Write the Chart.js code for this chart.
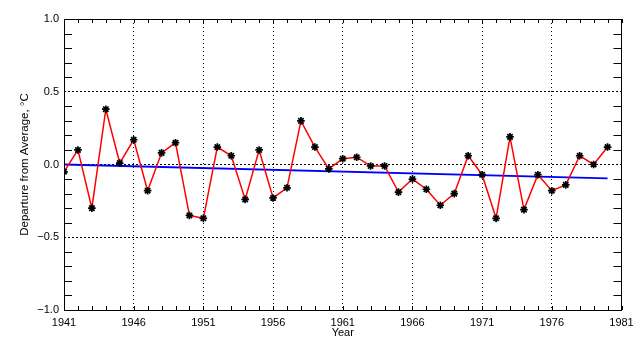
<!DOCTYPE html>
<html>
<head>
<meta charset="utf-8">
<script src="https://cdn.jsdelivr.net/npm/chart.js@4/dist/chart.umd.min.js"></script>
<style>
  html, body { margin: 0; padding: 0; background: #fff; }
  #wrap { width: 640px; height: 350px; }
</style>
</head>
<body>
<div id="wrap"><canvas id="c" width="640" height="350"></canvas></div>
<script>
// Annual temperature departures, 1941-1980
const years = [1941,1942,1943,1944,1945,1946,1947,1948,1949,1950,
               1951,1952,1953,1954,1955,1956,1957,1958,1959,1960,
               1961,1962,1963,1964,1965,1966,1967,1968,1969,1970,
               1971,1972,1973,1974,1975,1976,1977,1978,1979,1980];
const departures = [-0.05, 0.10, -0.30, 0.38, 0.01, 0.17, -0.18, 0.08, 0.15, -0.35,
                    -0.37, 0.12, 0.06, -0.24, 0.10, -0.23, -0.16, 0.30, 0.12, -0.03,
                     0.04, 0.05, -0.01, -0.01, -0.19, -0.10, -0.17, -0.28, -0.20, 0.06,
                    -0.07, -0.37, 0.19, -0.31, -0.07, -0.18, -0.14, 0.06, 0.00, 0.12];
// Linear trend end points
const trendYears = [1941, 1980];
const trendValues = [0.0, -0.095];

const xTicks = [1941, 1946, 1951, 1956, 1961, 1966, 1971, 1976, 1981];
const yTicks = [-1.0, -0.5, 0.0, 0.5, 1.0];

Chart.defaults.font.family = '"Liberation Sans", Helvetica, Arial, sans-serif';
Chart.defaults.font.size = 11;
Chart.defaults.color = '#000';

// Frame around the plot plus small inward tick marks on all four sides
const frameTicks = {
  id: 'frameTicks',
  afterDatasetsDraw(chart) {
    const { ctx, chartArea: a, scales: { x, y } } = chart;
    ctx.save();
    ctx.strokeStyle = '#000';
    ctx.lineWidth = 1;
    ctx.beginPath();
    // year ticks, top and bottom
    for (let yr = x.min; yr <= x.max; yr++) {
      const px = Math.round(x.getPixelForValue(yr)) + 0.5;
      ctx.moveTo(px, a.bottom); ctx.lineTo(px, a.bottom - 4);
      ctx.moveTo(px, a.top); ctx.lineTo(px, a.top + 4);
    }
    // tenths ticks, left and right
    for (let i = -10; i <= 10; i++) {
      if (i % 5 === 0) continue;
      const py = Math.round(y.getPixelForValue(i / 10)) + 0.5;
      ctx.moveTo(a.left, py); ctx.lineTo(a.left + 8, py);
      ctx.moveTo(a.right, py); ctx.lineTo(a.right - 8, py);
    }
    ctx.stroke();
    ctx.strokeRect(Math.round(a.left) + 0.5, Math.round(a.top) + 0.5,
                   Math.round(a.right - a.left) - 1, Math.round(a.bottom - a.top));
    ctx.restore();
  }
};

new Chart(document.getElementById('c'), {
  type: 'line',
  data: {
    datasets: [
      {
        data: years.map((yr, i) => ({ x: yr, y: departures[i] })),
        borderColor: '#ff0000',
        borderWidth: 1.5,
        tension: 0,
        pointStyle: 'star',
        pointRadius: 3.8,
        pointBorderColor: '#000',
        pointBackgroundColor: '#000',
        pointBorderWidth: 1.7
      },
      {
        data: trendYears.map((yr, i) => ({ x: yr, y: trendValues[i] })),
        borderColor: '#0000ff',
        borderWidth: 1.8,
        pointRadius: 0,
        tension: 0
      }
    ]
  },
  plugins: [frameTicks],
  options: {
    responsive: false,
    animation: false,
    events: [],
    layout: { padding: { left: 0, right: 18.5, top: 19, bottom: 0 } },
    plugins: { legend: { display: false }, tooltip: { enabled: false } },
    scales: {
      x: {
        type: 'linear',
        min: 1941,
        max: 1981,
        afterBuildTicks: s => { s.ticks = xTicks.map(v => ({ value: v })); },
        afterFit: s => { s.height = 40; },
        ticks: { padding: 6, maxRotation: 0, autoSkip: false, callback: v => String(v) },
        grid: {
          drawTicks: false,
          color: c => (c.tick && c.tick.value > 1941 && c.tick.value < 1981) ? '#000' : 'rgba(0,0,0,0)',
          lineWidth: 1
        },
        border: { display: false, dash: [1, 3] },
        title: { display: true, text: 'Year', padding: { top: 0, bottom: 10 } }
      },
      y: {
        min: -1,
        max: 1,
        afterBuildTicks: s => { s.ticks = yTicks.map(v => ({ value: v })); },
        afterFit: s => { s.width = 64; },
        ticks: {
          padding: 5,
          callback: v => (v < 0 ? '\u2212' : '') + Math.abs(v).toFixed(1)
        },
        grid: {
          drawTicks: false,
          color: c => (c.tick && c.tick.value > -1 && c.tick.value < 1) ? '#000' : 'rgba(0,0,0,0)',
          lineWidth: 1
        },
        border: { display: false, dash: [2, 2] },
        title: { display: true, text: 'Departure from Average, \u00B0C', font: { size: 11.5 }, padding: { top: 18, bottom: 0 } }
      }
    }
  }
});
</script>
</body>
</html>
